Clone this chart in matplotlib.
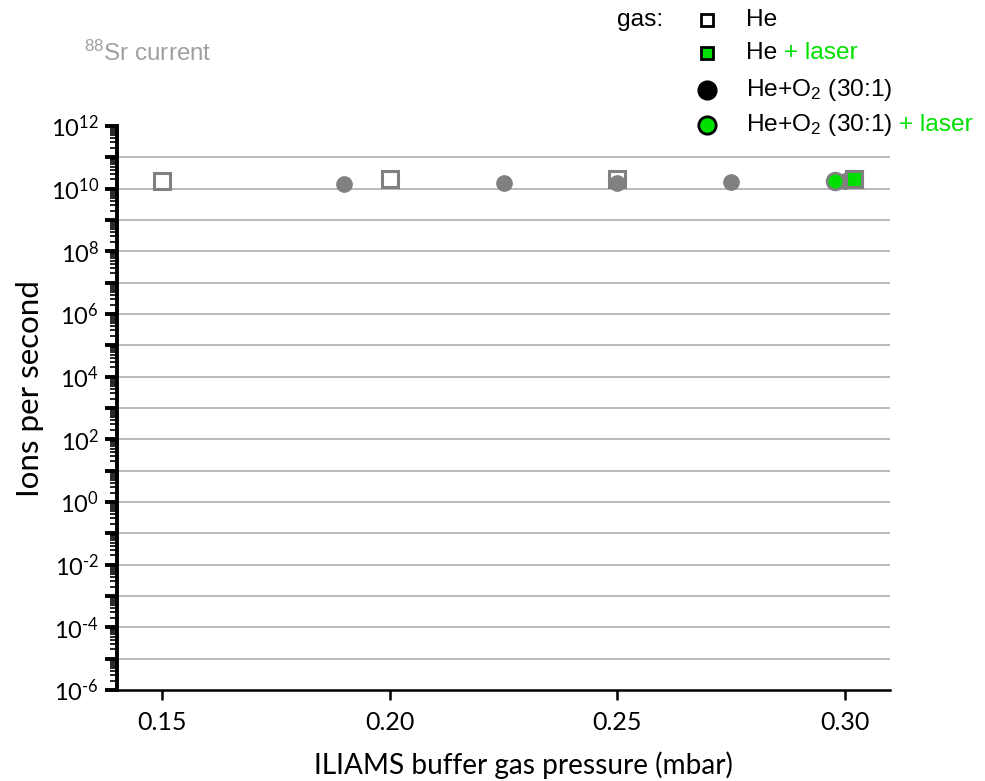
import math
import matplotlib
matplotlib.use('Agg')
import matplotlib.pyplot as plt
from matplotlib.ticker import LogLocator, FixedLocator, NullFormatter, FuncFormatter
from matplotlib.lines import Line2D

# data
he_p = [0.15, 0.20, 0.25, 0.302]
he_i = [1.7e10, 2.1e10, 2.1e10, 2.0e10]
he_laser_p = [0.302]
he_laser_i = [2.0e10]
heo2_p = [0.19, 0.225, 0.25, 0.275, 0.300]
heo2_i = [1.45e10, 1.5e10, 1.55e10, 1.6e10, 1.7e10]
heo2_laser_p = [0.298]
heo2_laser_i = [1.7e10]

grey = '#808080'
green = '#00e000'

plt.rcParams['mathtext.fontset'] = 'custom'
plt.rcParams['mathtext.rm'] = 'Lato'
plt.rcParams['mathtext.default'] = 'regular'

fig = plt.figure(figsize=(9.85, 7.81), dpi=100)
ax = fig.add_axes([0.1188, 0.1165, 0.7848, 0.7222])

ax.plot(he_p, he_i, 's', ms=11, mfc='white', mec=grey, mew=2.2, ls='none', zorder=3)
ax.plot(heo2_p, heo2_i, 'o', ms=11, mfc=grey, mec=grey, ls='none', zorder=4)
ax.plot(he_laser_p, he_laser_i, 's', ms=11, mfc=green, mec=grey, mew=2.2, ls='none', zorder=5)
ax.plot(heo2_laser_p, heo2_laser_i, 'o', ms=12, mfc=green, mec=grey, mew=2, ls='none', zorder=6)

ax.set_yscale('log')
ax.set_ylim(1e-6, 1e12)
ax.set_xlim(0.14, 0.31)


def ylab(v, pos):
    k = round(math.log10(v))
    if k % 2:
        return ''
    return r'$10^{%s}$' % str(k).replace('-', '\u2010')


ax.yaxis.set_major_locator(FixedLocator([10.0**k for k in range(-6, 13)]))
ax.yaxis.set_minor_locator(LogLocator(base=10, subs=range(2, 10), numticks=40))
ax.yaxis.set_minor_formatter(NullFormatter())
ax.yaxis.set_major_formatter(FuncFormatter(ylab))
ax.set_xticks([0.15, 0.20, 0.25, 0.30])
ax.set_xticklabels(['0.15', '0.20', '0.25', '0.30'])

for k in range(-5, 12):
    ax.axhline(10.0**k, color='#b4b4b4', lw=1.3, zorder=1)

for s in ['top', 'right']:
    ax.spines[s].set_visible(False)
ax.spines['left'].set_linewidth(2.8)
ax.spines['bottom'].set_linewidth(1.8)
ax.tick_params(axis='y', which='major', direction='out', length=9, width=2.8, labelsize=17, pad=4)
ax.tick_params(axis='y', which='minor', direction='out', length=5, width=1.2)
ax.tick_params(axis='x', which='major', direction='out', length=7, width=1.8, labelsize=18, pad=8)
for lab in ax.get_yticklabels() + ax.get_xticklabels():
    lab.set_family('Lato')

xl = ax.set_xlabel('ILIAMS buffer gas pressure (mbar)', fontsize=20, family='Lato', va='center')
yl = ax.set_ylabel('Ions per second', fontsize=20, family='Lato', va='center')
ax.xaxis.set_label_coords(0.526, -0.133)
ax.yaxis.set_label_coords(-0.1125, 0.535)

title = fig.text(84 / 985, 1 - 53 / 781, r'$^{88}$Sr current', fontsize=16, color='#a0a0a0',
                 family='Liberation Sans', va='center')

fig.canvas.draw()
r = fig.canvas.get_renderer()


def fit(t, target, vertical=False):
    bb = t.get_window_extent(renderer=r)
    size = bb.height if vertical else bb.width
    t.set_fontsize(t.get_fontsize() * target / size)


# scale the texts to the widths measured on the reference
fit(xl, 420)
fit(yl, 217, vertical=True)
fit(title, 128)

# legend drawn by hand, with green "+ laser" parts
gas = fig.text(617 / 985, 1 - 20 / 781, 'gas:', fontsize=18, family='Liberation Sans', va='center')
fit(gas, 46)
rows = [
    ('s', 'white', 'He', ''),
    ('s', green, 'He', ' + laser'),
    ('o', 'black', r'He+O$_2$ (30:1)', ''),
    ('o', green, r'He+O$_2$ (30:1)', ' + laser'),
]
ys = [20, 53, 90, 125]
fs = gas.get_fontsize()
for (m, fc, txt, extra), y in zip(rows, ys):
    yf = 1 - y / 781
    ms = 9 if m == 's' else 12.5
    fig.add_artist(Line2D([707 / 985], [yf], marker=m, ms=ms, mfc=fc, mec='black', mew=2,
                          ls='none', transform=fig.transFigure))
    t = fig.text(746 / 985, yf, txt, fontsize=fs, family='Liberation Sans', va='center')
    if extra:
        bb = t.get_window_extent(renderer=r).transformed(fig.transFigure.inverted())
        fig.text(bb.x1, yf, extra, fontsize=fs, family='Liberation Sans', va='center', color=green)

fig.savefig('out.png', dpi=100)
